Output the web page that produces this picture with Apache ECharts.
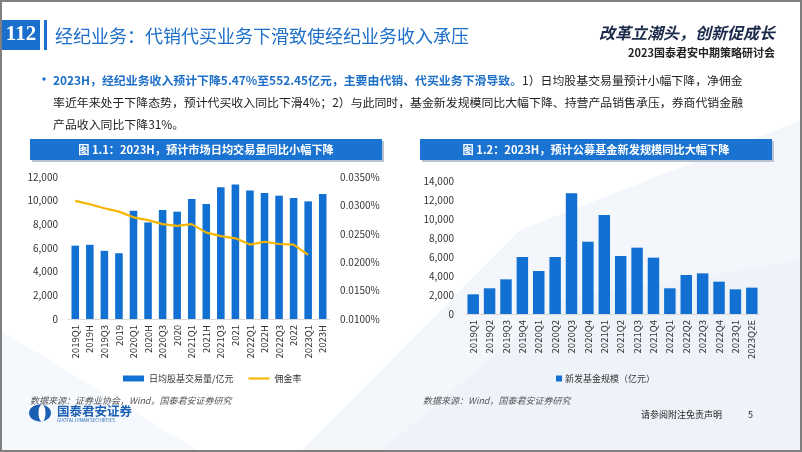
<!DOCTYPE html>
<html><head><meta charset="utf-8">
<script src="https://cdn.jsdelivr.net/npm/echarts@6/dist/echarts.min.js"></script>
<style>html,body{margin:0;padding:0;background:#fff;}#c{width:802px;height:452px;}</style>
</head><body><div id="c"></div>
<script>
// ---- data ----
const leftCats = ['2019Q1','2019H','2019Q3','2019','2020Q1','2020H','2020Q3','2020','2021Q1','2021H','2021Q3','2021','2022Q1','2022H','2022Q3','2022','2023Q1','2023H'];
const dailyVolume = [6200,6270,5760,5560,9150,8160,9210,9070,10140,9720,11130,11360,10850,10650,10420,10230,9940,10560];
const commissionRate = [0.0308,0.0302,0.0295,0.0289,0.0279,0.0274,0.0267,0.0264,0.0267,0.0252,0.0246,0.0242,0.0231,0.0236,0.0232,0.0231,0.0213,null];
const rightCats = ['2019Q1','2019Q2','2019Q3','2019Q4','2020Q1','2020Q2','2020Q3','2020Q4','2021Q1','2021Q2','2021Q3','2021Q4','2022Q1','2022Q2','2022Q3','2022Q4','2023Q1','2023Q2E'];
const newFundSize = [2080,2720,3670,6030,4550,6030,12770,7650,10480,6140,7020,5960,2720,4130,4300,3420,2610,2790];
const leftTicks = {min:0,max:12000,interval:2000};
const rightRateTicks = {min:0.01,max:0.035,interval:0.005};
const fundTicks = {min:0,max:14000,interval:2000};

const BLUE = '#1270d3';
const TXT = '#333333';
const FONT = '"Noto Sans CJK SC","Noto Sans",sans-serif';

const chart = echarts.init(document.getElementById('c'), null, {renderer:'canvas'});

const para1Blue = '2023H，经纪业务收入预计下降5.47%至552.45亿元，主要由代销、代买业务下滑导致。';
const para1Rest = '1）日均股基交易量预计小幅下降，净佣金';
const para2 = '率近年来处于下降态势，预计代买收入同比下滑4%；2）与此同时，基金新发规模同比大幅下降、持营产品销售承压，券商代销金融';
const para3 = '产品收入同比下降31%。';
const PF = '11.9px ';

const axisLabel = {color:TXT, fontSize:10, fontFamily:FONT};
const xLabel = {color:TXT, fontSize:9.5, fontFamily:FONT, rotate:90, interval:0, margin:6};

chart.setOption({
  animation:false,
  textStyle:{fontFamily:FONT},
  graphic:[
    // background decoration
    {type:'polygon', z:-10, shape:{points:[[300,452],[520,230],[802,120],[802,452]]}, style:{fill:'#f3f7fc'}},
    {type:'polygon', z:-9, shape:{points:[[380,452],[560,300],[802,260],[802,452]]}, style:{fill:'#eef3fa'}},
    {type:'polygon', z:-9, shape:{points:[[0,330],[200,452],[0,452]]}, style:{fill:'#f5f8fc'}},
    // border
    {type:'rect', z:100, shape:{x:1,y:1,width:800,height:450}, style:{fill:'none', stroke:'#7f7f7f', lineWidth:2}},
    // header box
    {type:'rect', shape:{x:2,y:20,width:38,height:30}, style:{fill:'#1a6fcc'}},
    {type:'text', style:{x:21,y:35,text:'112',fill:'#fff',font:'bold 21px "Liberation Serif",serif',align:'center',verticalAlign:'middle'}},
    {type:'rect', shape:{x:44,y:20,width:3,height:30}, style:{fill:'#1a6fcc'}},
    {type:'text', style:{x:55,y:36,text:'经纪业务：代销代买业务下滑致使经纪业务收入承压',fill:'#1d6fc8',font:'18px '+FONT,verticalAlign:'middle'}},
    {type:'text', style:{x:775,y:33,text:'改革立潮头，创新促成长',fill:'#1b2a4a',font:'italic bold 16px "Noto Sans CJK SC",serif',align:'right',verticalAlign:'middle'}},
    {type:'text', style:{x:775,y:53,text:'2023国泰君安中期策略研讨会',fill:'#222',font:'bold 11px '+FONT,align:'right',verticalAlign:'middle'}},
    // paragraph
    {type:'circle', shape:{cx:44,cy:79,r:1.7}, style:{fill:'#1d6fc8'}},
    {type:'text', style:{x:53,y:80,verticalAlign:'middle',
      text:'{b|'+para1Blue+'}{n|'+para1Rest+'}',
      rich:{b:{fill:'#1d6fc8',font:'bold '+PF+FONT},n:{fill:'#222',font:PF+FONT}}}},
    {type:'text', style:{x:53,y:102,verticalAlign:'middle',text:para2,fill:'#222',font:PF+FONT}},
    {type:'text', style:{x:53,y:124,verticalAlign:'middle',text:para3,fill:'#222',font:PF+FONT}},
    // banners
    {type:'rect', shape:{x:32,y:141,width:352,height:21}, style:{fill:'#b9c3cf'}},
    {type:'rect', shape:{x:30,y:139,width:352,height:21}, style:{fill:'#1a73d1'}},
    {type:'text', style:{x:206,y:149.5,text:'图 1.1：2023H，预计市场日均交易量同比小幅下降',fill:'#fff',font:'bold 11.2px '+FONT,align:'center',verticalAlign:'middle'}},
    {type:'rect', shape:{x:422,y:141,width:352,height:21}, style:{fill:'#b9c3cf'}},
    {type:'rect', shape:{x:420,y:139,width:352,height:21}, style:{fill:'#1a73d1'}},
    {type:'text', style:{x:596,y:149.5,text:'图 1.2：2023H，预计公募基金新发规模同比大幅下降',fill:'#fff',font:'bold 11.2px '+FONT,align:'center',verticalAlign:'middle'}},
    // sources
    {type:'text', style:{x:30,y:401,text:'数据来源：证券业协会，Wind，国泰君安证券研究',fill:'#555',font:'italic 9px '+FONT,verticalAlign:'middle'}},
    {type:'text', style:{x:423,y:401,text:'数据来源：Wind，国泰君安证券研究',fill:'#555',font:'italic 9px '+FONT,verticalAlign:'middle'}},
    {type:'text', style:{x:641,y:415,text:'请参阅附注免责声明',fill:'#222',font:'9px '+FONT,verticalAlign:'middle'}},
    {type:'text', style:{x:748,y:415,text:'5',fill:'#222',font:'9px '+FONT,verticalAlign:'middle'}},
    // logo
    {type:'ellipse', shape:{cx:40,cy:413,rx:11,ry:8.5}, style:{fill:'#1a5fb4'}},
    {type:'ellipse', shape:{cx:42,cy:413,rx:3.5,ry:8.5}, style:{fill:'#fff'}},
    {type:'text', style:{x:57,y:411,text:'国泰君安证券',fill:'#1a5fb4',font:'bold 12.5px '+FONT,verticalAlign:'middle'}},
    {type:'text', style:{x:57,y:420,text:'GUOTAI JUNAN SECURITIES',fill:'#1a5fb4',font:'4.5px '+FONT,verticalAlign:'middle'}}
  ],
  legend:[
    {left:118, top:369, itemWidth:21, itemHeight:6, itemGap:15, textStyle:{color:TXT,fontSize:9,fontFamily:FONT},
     data:[{name:'日均股基交易量/亿元',icon:'rect'},{name:'佣金率',icon:'path://M0 0H30V3H0Z'}]},
    {left:551, top:369, itemWidth:6, itemHeight:6, itemGap:2, textStyle:{color:TXT,fontSize:9,fontFamily:FONT, padding:[0,0,0,-2]},
     data:[{name:'新发基金规模（亿元）',icon:'rect'}]}
  ],
  grid:[
    {left:68, right:472, top:177, bottom:133},
    {left:465, right:42, top:181.7, bottom:138}
  ],
  xAxis:[
    {type:'category', gridIndex:0, data:leftCats, axisTick:{show:false}, axisLine:{lineStyle:{color:'#d9d9d9'}}, axisLabel:xLabel},
    {type:'category', gridIndex:1, data:rightCats, axisTick:{show:false}, axisLine:{lineStyle:{color:'#d9d9d9'}}, axisLabel:xLabel}
  ],
  yAxis:[
    {type:'value', gridIndex:0, min:leftTicks.min, max:leftTicks.max, interval:leftTicks.interval, splitLine:{show:false},
     axisLabel:Object.assign({margin:10, formatter:v=>v.toLocaleString('en-US')},axisLabel)},
    {type:'value', gridIndex:0, position:'right', min:rightRateTicks.min, max:rightRateTicks.max, interval:rightRateTicks.interval, splitLine:{show:false},
     axisLabel:Object.assign({margin:10, formatter:v=>v.toFixed(4)+'%'},axisLabel)},
    {type:'value', gridIndex:1, min:fundTicks.min, max:fundTicks.max, interval:fundTicks.interval, splitLine:{show:false},
     axisLabel:Object.assign({margin:11, formatter:v=>v.toLocaleString('en-US')},axisLabel)}
  ],
  series:[
    {name:'日均股基交易量/亿元', type:'bar', xAxisIndex:0, yAxisIndex:0, data:dailyVolume, barWidth:'52%', itemStyle:{color:BLUE}},
    {name:'佣金率', type:'line', xAxisIndex:0, yAxisIndex:1, data:commissionRate, symbol:'none', lineStyle:{color:'#f7b500',width:2.2}, itemStyle:{color:'#f7b500'}},
    {name:'新发基金规模（亿元）', type:'bar', xAxisIndex:1, yAxisIndex:2, data:newFundSize, barWidth:'70%', itemStyle:{color:BLUE}}
  ]
});
</script></body></html>
